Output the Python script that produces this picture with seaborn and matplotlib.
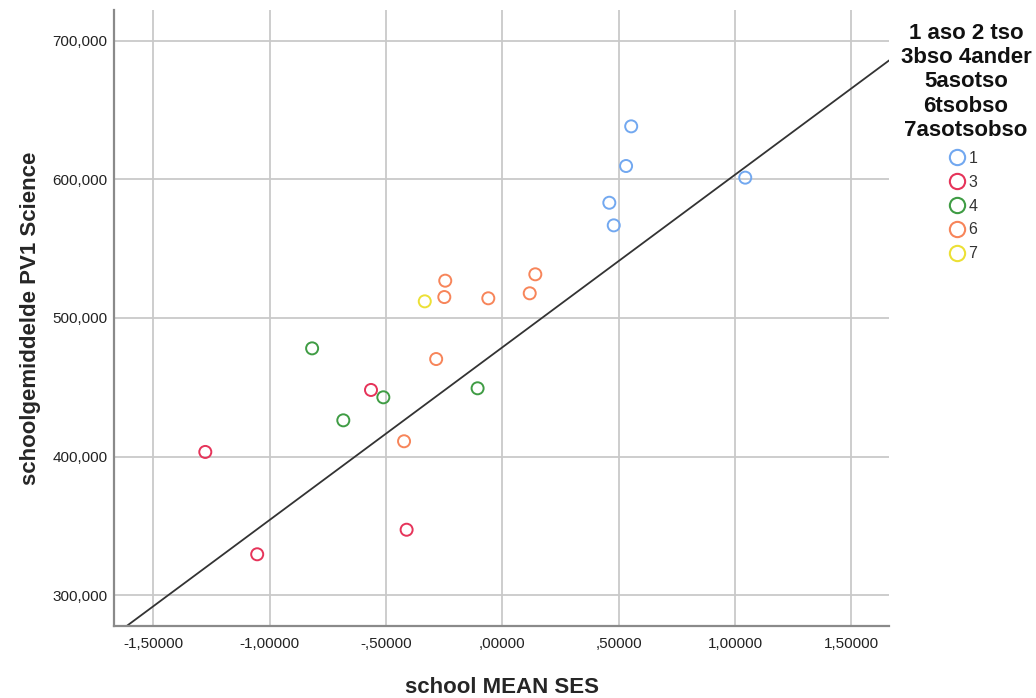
import matplotlib
matplotlib.use("Agg")
import matplotlib.pyplot as plt
from matplotlib.lines import Line2D
from matplotlib.ticker import FuncFormatter, FixedLocator
import seaborn as sns
import pandas as pd

# ---- data ----
ses = [0.554, 0.532, 0.460, 0.479, 1.044,                 # group 1
       -0.564, -1.276, -0.411, -1.053,                    # group 3
       -0.817, -0.511, -0.683, -0.106,                    # group 4
       -0.245, -0.249, -0.060, 0.118, 0.142, -0.284, -0.422,  # group 6
       -0.333]                                            # group 7
science = [638.2, 609.6, 583.1, 566.8, 601.2,
           448.1, 403.4, 347.3, 329.6,
           478.1, 442.8, 426.2, 449.3,
           526.9, 515.1, 514.2, 517.8, 531.5, 470.4, 411.1,
           512.0]
group = ["1"] * 5 + ["3"] * 4 + ["4"] * 4 + ["6"] * 7 + ["7"]

group_levels = ["1", "3", "4", "6", "7"]
group_colors = ["#72a8f0", "#e6345a", "#3f9c44", "#f7855a", "#ece036"]

fit_intercept = 478.8
fit_slope = 124.5

x_ticks = [-1.5, -1.0, -0.5, 0.0, 0.5, 1.0, 1.5]
y_ticks = [300, 400, 500, 600, 700]

legend_title = "1 aso 2 tso\n3bso 4ander\n5asotso\n6tsobso\n7asotsobso"
x_label = "school MEAN SES"
y_label = "schoolgemiddelde PV1 Science"

df = pd.DataFrame({"ses": ses, "science": science, "group": group})
palette = dict(zip(group_levels, group_colors))

sns.set_style("white")
plt.rcParams["font.family"] = ["Liberation Sans", "DejaVu Sans"]

fig = plt.figure(figsize=(10.36, 6.98), dpi=100)
ax = fig.add_axes([114.3 / 1036, 72.3 / 698, (889.3 - 114.3) / 1036, (625.7 - 10) / 698])

ax.grid(True, color="#c9c9c9", linewidth=1.3)
ax.set_axisbelow(True)

sns.scatterplot(data=df, x="ses", y="science", hue="group", hue_order=group_levels,
                palette=palette, s=75, linewidth=1.4, legend=False, ax=ax, zorder=3)
coll = ax.collections[0]
fcs = coll.get_facecolors()
coll.set_edgecolors(fcs)
coll.set_facecolors("none")

ax.axline((0, fit_intercept), slope=fit_slope, color="#333333", linewidth=1.3, zorder=2)

ax.set_xlim(-1.667, 1.663)
ax.set_ylim(278.1, 722.1)
ax.xaxis.set_major_locator(FixedLocator(x_ticks))
ax.yaxis.set_major_locator(FixedLocator(y_ticks))


def fmt_x(v, pos):
    s = f"{v:.5f}".replace(".", ",")
    if s.startswith("0,"):
        s = s[1:]
    elif s.startswith("-0,"):
        s = "-" + s[2:]
    return s


def fmt_y(v, pos):
    return f"{v:.3f}".replace(".", ",")


ax.xaxis.set_major_formatter(FuncFormatter(fmt_x))
ax.yaxis.set_major_formatter(FuncFormatter(fmt_y))
ax.tick_params(axis="both", length=0, labelsize=11, labelcolor="#222222")
ax.tick_params(axis="x", pad=8)
ax.tick_params(axis="y", pad=5)

for side in ["top", "right"]:
    ax.spines[side].set_visible(False)
for side in ["left", "bottom"]:
    ax.spines[side].set_color("#8a8a8a")
    ax.spines[side].set_linewidth(1.6)

ax.set_xlabel(x_label, fontsize=16, fontweight="bold", labelpad=19)
ax.set_ylabel(y_label, fontsize=16, fontweight="bold", labelpad=8)

# legend title (multi-line, centred) and entries
fig.text(966 / 1036, 1 - 23 / 698, legend_title, ha="center", va="top",
         fontsize=16, fontweight="bold", linespacing=1.2, multialignment="center",
         color="#111111")

handles = [Line2D([0], [0], marker="o", linestyle="none", markersize=11,
                  markerfacecolor="none", markeredgecolor=c, markeredgewidth=1.5)
           for c in group_colors]
leg = fig.legend(handles, group_levels, loc="upper left",
                 bbox_to_anchor=(946 / 1036, 1 - 151 / 698), frameon=False,
                 fontsize=11.5, handletextpad=0.0, labelspacing=0.55,
                 handlelength=1.4, borderpad=0.0, borderaxespad=0.0)
for t in leg.get_texts():
    t.set_color("#333333")

fig.savefig("out.png", dpi=100)
